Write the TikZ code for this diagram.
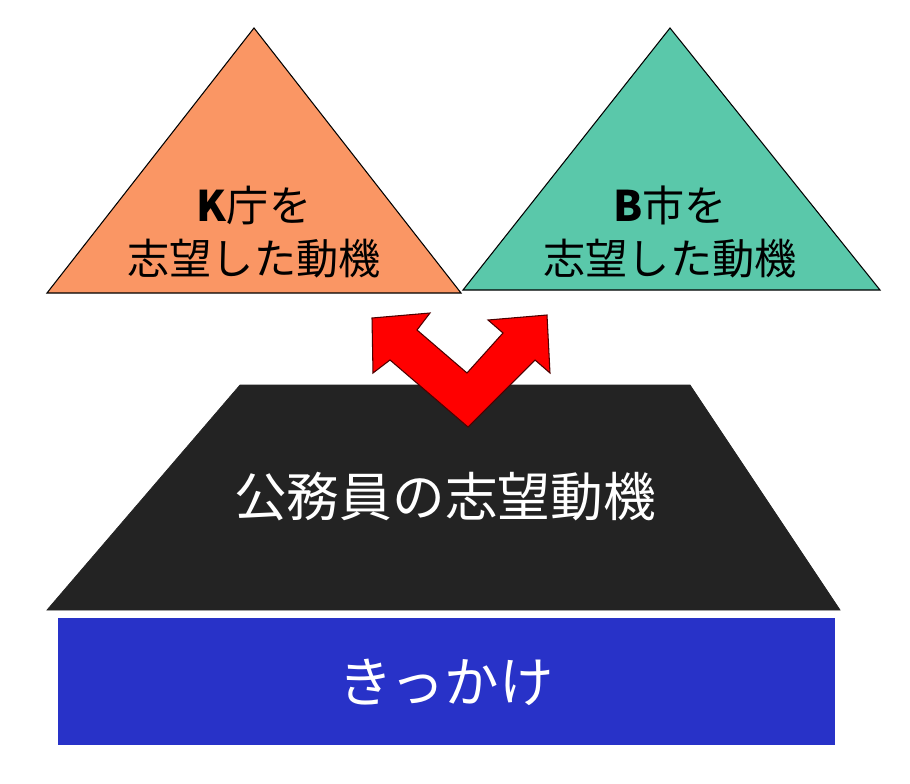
\documentclass[tikz,border=0pt]{standalone}
\usepackage{fontspec}
\setmainfont{Noto Sans CJK JP}
\usetikzlibrary{positioning}
\definecolor{kcol}{RGB}{250,150,100}
\definecolor{bcol}{RGB}{90,200,170}
\definecolor{basecol}{RGB}{35,35,35}
\definecolor{blockcol}{RGB}{40,50,200}
\begin{document}
\begin{tikzpicture}[x=0.02cm, y=-0.02cm,
        every text node part/.style={align=center},
        shape line/.style={draw=black, line width=0.6pt}
    ]
    \useasboundingbox (0,0) rectangle (910,784);

    % two triangles
    \draw[shape line, fill=kcol] (254,28) -- (461,293) -- (47,293) -- cycle;
    \draw[shape line, fill=bcol] (670,28) -- (880,290) -- (463,290) -- cycle;
    \node[font=\fontsize{24}{30}\selectfont] (K) at (254,232) {\textbf{K}庁を\\志望した動機};
    \node[font=\fontsize{24}{30}\selectfont] (B) at (670,232) {\textbf{B}市を\\志望した動機};

    % base
    \draw[fill=basecol, draw=basecol] (240,385) -- (690,385) -- (840,610) -- (47,610) -- cycle;
    \node[text=white, font=\fontsize{30}{36}\selectfont] (motive) at (445,497) {公務員の志望動機};
    \fill[blockcol] (58,618) rectangle (835,745);
    \node[text=white, font=\fontsize{31}{36}\selectfont] (trigger) at (446,682) {きっかけ};

    % red arrow
    \draw[fill=red, draw=black!70!red, line width=0.6pt]
        (468,427) -- (535,360) -- (550,373) -- (547,315) -- (488,320) -- (503,333)
        -- (467,373) -- (417,330) -- (430,313) -- (372,318) -- (373,373) -- (390,360) -- cycle;
\end{tikzpicture}
\end{document}
